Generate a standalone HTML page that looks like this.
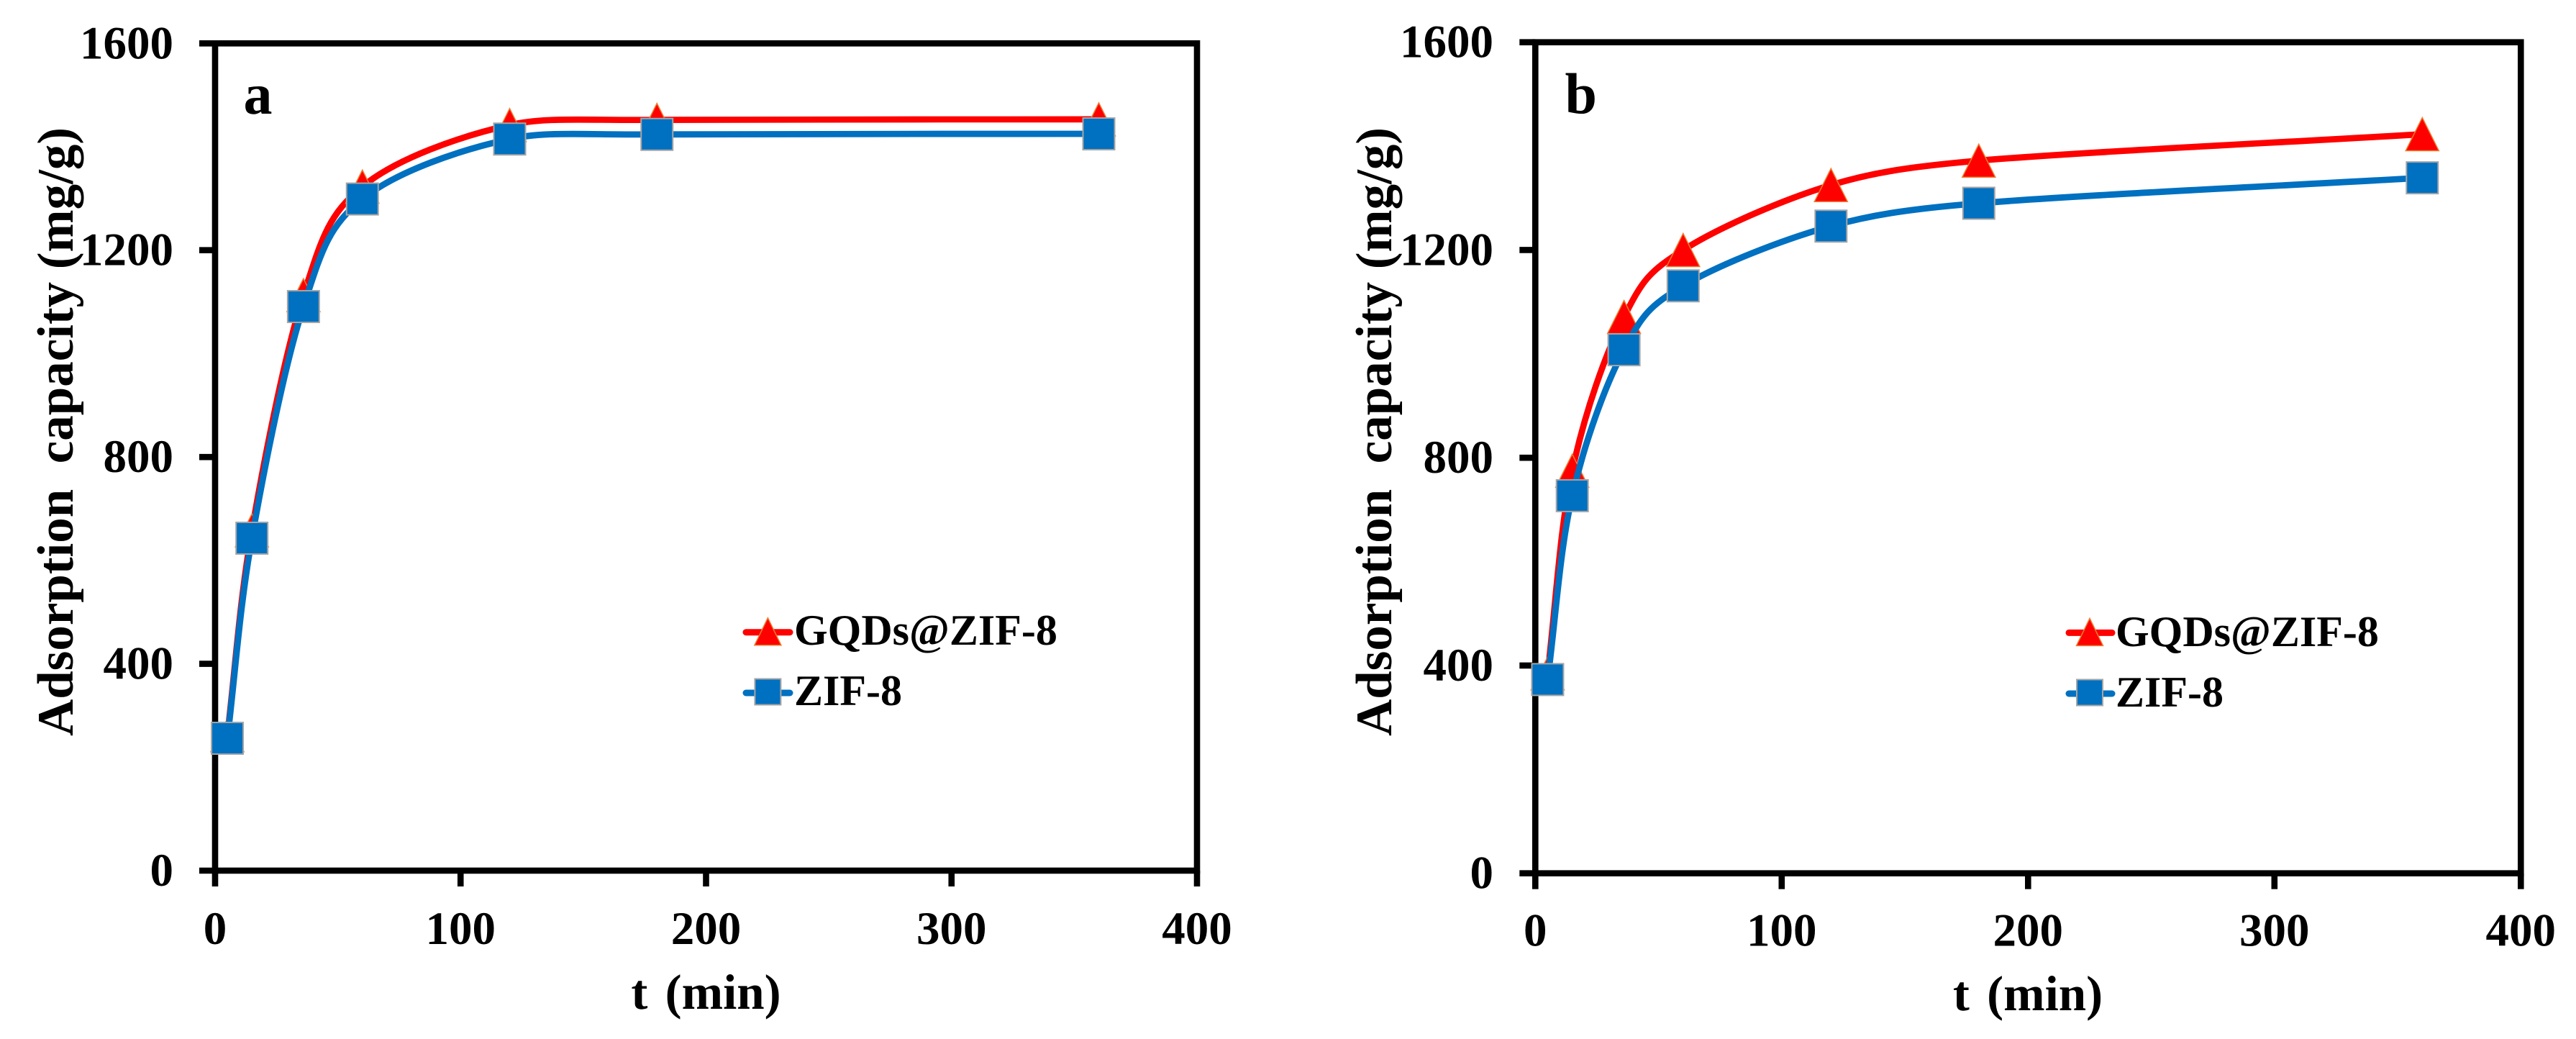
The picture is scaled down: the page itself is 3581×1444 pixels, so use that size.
<!DOCTYPE html>
<html lang="en">
<head>
<meta charset="utf-8">
<title>Adsorption capacity vs time</title>
<style>
html,body{margin:0;padding:0;background:#fff;}
svg{display:block;}
text{font-family:"Liberation Serif",serif;font-weight:bold;fill:#000;}
.tick{font-size:65px;}
.title{font-size:71px;}
.xtitle{font-size:69px;word-spacing:7px;}
.legend{font-size:60px;}
.panel{font-size:80px;}
</style>
</head>
<body>
<svg id="chart" xmlns="http://www.w3.org/2000/svg" width="3581" height="1444" viewBox="0 0 3581 1444">
  <rect width="3581" height="1444" fill="#fff"/>
  <g id="panel-a"></g>
  <g id="panel-b"></g>

  <text class="panel" x="338.5" y="158">a</text>
  <text class="title" text-anchor="middle" transform="translate(101,600) rotate(-90)">Adsorption&#160;&#160;capacity (mg/g)</text>
  <text class="xtitle" text-anchor="middle" x="981.5" y="1402">t (min)</text>
  <text class="legend" x="1104" y="896">GQDs@ZIF-8</text>
  <text class="legend" x="1104" y="980">ZIF-8</text>

  <text class="panel" x="2175.5" y="157.3">b</text>
  <text class="title" text-anchor="middle" transform="translate(1934,600) rotate(-90)">Adsorption&#160;&#160;capacity (mg/g)</text>
  <text class="xtitle" text-anchor="middle" x="2819" y="1404">t (min)</text>
  <text class="legend" x="2941" y="898">GQDs@ZIF-8</text>
  <text class="legend" x="2941" y="982">ZIF-8</text>
</svg>
<script>
var times = [5, 15, 36, 60, 120, 180, 360];
var gqdsA = [262, 658, 1113, 1323, 1442, 1452, 1453];
var zifA = [256, 643, 1091, 1299, 1415, 1424, 1425];
var gqdsB = [385, 775, 1071, 1200, 1325, 1372, 1423];
var zifB = [373, 727, 1008, 1131, 1246, 1290, 1339];
var xTickValues = [0, 100, 200, 300, 400];
var yTickValues = [0, 400, 800, 1200, 1600];

var SVG_NS = 'http://www.w3.org/2000/svg';
var RED = '#FF0000';
var BLUE = '#0070C0';
var TICK_OUT = 22;
var AXIS_W = 8.6;

function make(parent, tag, attrs) {
  var el = document.createElementNS(SVG_NS, tag);
  for (var k in attrs) el.setAttribute(k, attrs[k]);
  parent.appendChild(el);
  return el;
}

/* Spreadsheet-style smoothed line through the points */
function smoothPath(pts) {
  var d = 'M' + pts[0][0].toFixed(1) + ' ' + pts[0][1].toFixed(1);
  var n = pts.length;
  function dist(a, b) { return Math.hypot(a[0] - b[0], a[1] - b[1]); }
  for (var i = 0; i < n - 1; i++) {
    var p0 = pts[Math.max(i - 1, 0)], p1 = pts[i], p2 = pts[i + 1], p3 = pts[Math.min(i + 2, n - 1)];
    var d02 = dist(p0, p2), d12 = dist(p1, p2), d13 = dist(p1, p3);
    var f1, f2;
    var smallA = d02 / 6 < d12 / 2, smallB = d13 / 6 < d12 / 2;
    if (smallA && smallB) {
      f1 = i === 0 ? 1 / 3 : 1 / 6;
      f2 = i === n - 2 ? 1 / 3 : 1 / 6;
    } else if (!smallA && !smallB) {
      f1 = 0.5 * d12 / d02;
      f2 = 0.5 * d12 / d13;
    } else if (!smallA) {
      f1 = 0.5 * d12 / d02;
      f2 = 0.5 * d12 / d13 * (d13 / d02);
    } else {
      f1 = 0.5 * d12 / d02 * (d02 / d13);
      f2 = 0.5 * d12 / d13;
    }
    d += ' C' + (p1[0] + f1 * (p2[0] - p0[0])).toFixed(1) + ' ' + (p1[1] + f1 * (p2[1] - p0[1])).toFixed(1) +
         ' ' + (p2[0] - f2 * (p3[0] - p1[0])).toFixed(1) + ' ' + (p2[1] - f2 * (p3[1] - p1[1])).toFixed(1) +
         ' ' + p2[0].toFixed(1) + ' ' + p2[1].toFixed(1);
  }
  return d;
}

function triangle(parent, cx, cy, w, h) {
  var pts = (cx) + ',' + (cy - h / 2) + ' ' + (cx - w / 2) + ',' + (cy + h / 2) + ' ' + (cx + w / 2) + ',' + (cy + h / 2);
  return make(parent, 'polygon', { points: pts, fill: RED, stroke: '#ED7D31', 'stroke-width': 1.5 });
}

function square(parent, cx, cy, s) {
  return make(parent, 'rect', { x: cx - s / 2, y: cy - s / 2, width: s, height: s, fill: BLUE, stroke: '#A5A5A5', 'stroke-width': 2 });
}

function drawPanel(g, prefix, box, gqds, zif, legend) {
  function xScale(v) { return box.left + (v / 400) * (box.right - box.left); }
  function yScale(v) { return box.bottom - (v / 1600) * (box.bottom - box.top); }

  var frame = make(g, 'rect', { x: box.left, y: box.top, width: box.right - box.left, height: box.bottom - box.top, fill: 'none', stroke: '#000', 'stroke-width': AXIS_W });
  
  

  xTickValues.forEach(function (v) {
    var x = xScale(v);
    var tick = make(g, 'line', { x1: x, x2: x, y1: box.bottom, y2: box.bottom + TICK_OUT, stroke: '#000', 'stroke-width': AXIS_W });
    
    
    var label = make(g, 'text', { x: x, y: box.xLabelY, 'text-anchor': 'middle', 'class': 'tick' });
    label.textContent = String(v);
    
    
  });

  yTickValues.forEach(function (v) {
    var y = yScale(v);
    var tick = make(g, 'line', { x1: box.left - TICK_OUT, x2: box.left, y1: y, y2: y, stroke: '#000', 'stroke-width': AXIS_W });
    
    
    var label = make(g, 'text', { x: box.yLabelX, y: y + 21, 'text-anchor': 'end', 'class': 'tick' });
    label.textContent = String(v);
    
    
  });

  var redLine = make(g, 'path', { d: smoothPath(times.map(function (t, i) { return [xScale(t), yScale(gqds[i])]; })), fill: 'none', stroke: RED, 'stroke-width': 8.7, 'stroke-linecap': 'round', 'stroke-linejoin': 'round' });
  
  

  times.forEach(function (t, i) {
    var tri = triangle(g, xScale(t), yScale(gqds[i]), 46, 46);
    
    
  });

  var blueLine = make(g, 'path', { d: smoothPath(times.map(function (t, i) { return [xScale(t), yScale(zif[i])]; })), fill: 'none', stroke: BLUE, 'stroke-width': 8.8, 'stroke-linecap': 'round', 'stroke-linejoin': 'round' });
  
  

  times.forEach(function (t, i) {
    var sq = square(g, xScale(t), yScale(zif[i]), 44);
    
    
  });

  var legRed = make(g, 'line', { x1: legend.x1, x2: legend.x2, y1: legend.redY, y2: legend.redY, stroke: RED, 'stroke-width': 9, 'stroke-linecap': 'round' });
  
  
  var legTri = triangle(g, legend.cx, legend.redY - 1, 37, 38);
  
  

  var legBlue = make(g, 'line', { x1: legend.x1, x2: legend.x2, y1: legend.blueY, y2: legend.blueY, stroke: BLUE, 'stroke-width': 9, 'stroke-linecap': 'round' });
  
  
  var legSq = square(g, legend.cx, legend.blueY - 1.5, 36);
  
  
}

drawPanel(document.getElementById('panel-a'), 'panel-a',
  { left: 299, right: 1664, top: 60.3, bottom: 1210, xLabelY: 1312, yLabelX: 241 },
  gqdsA, zifA,
  { x1: 1037, x2: 1098, cx: 1067.4, redY: 878.7, blueY: 963 });

drawPanel(document.getElementById('panel-b'), 'panel-b',
  { left: 2134.3, right: 3504.3, top: 58.7, bottom: 1213.7, xLabelY: 1314.5, yLabelX: 2076 },
  gqdsB, zifB,
  { x1: 2876, x2: 2936, cx: 2905, redY: 879.4, blueY: 964 });
</script>
</body>
</html>
